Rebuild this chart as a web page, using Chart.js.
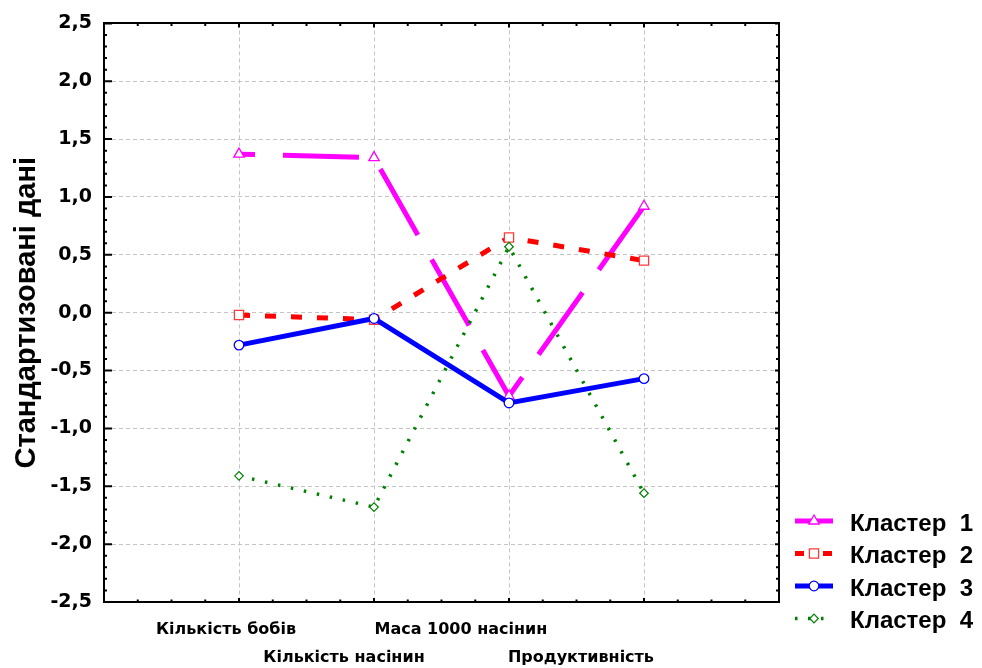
<!DOCTYPE html>
<html>
<head>
<meta charset="utf-8">
<script src="https://cdn.jsdelivr.net/npm/chart.js@4.4.1/dist/chart.umd.min.js"></script>
<style>
  html, body { margin: 0; padding: 0; background: #fff; }
  #wrap { width: 982px; height: 668px; }
</style>
</head>
<body>
<div id="wrap"><canvas id="clusterChart" width="982" height="668"></canvas></div>
<script>
// Categories along the x axis (placed at 1..4 on a 0..5 linear scale)
const categories = ['Кількість бобів', 'Кількість насінин', 'Маса 1000 насінин', 'Продуктивність'];
const seriesNames = ['Кластер  1', 'Кластер  2', 'Кластер  3', 'Кластер  4'];

// Standardised cluster means
const cluster1 = [1.37, 1.34, -0.72, 0.92];
const cluster2 = [-0.02, -0.06, 0.65, 0.45];
const cluster3 = [-0.28, -0.05, -0.78, -0.57];
const cluster4 = [-1.41, -1.68, 0.57, -1.56];

const yTicks = [-2.5, -2.0, -1.5, -1.0, -0.5, 0.0, 0.5, 1.0, 1.5, 2.0, 2.5];

const toPoints = arr => arr.map((v, i) => ({ x: i + 1, y: v }));

// small inward ticks on all four sides of the frame, like Statistica draws them
const frameTicks = {
    id: 'frameTicks',
    afterDraw(chart) {
        const { ctx, chartArea: a, scales } = chart;
        ctx.save();
        ctx.strokeStyle = '#000';
        ctx.lineWidth = 2;
        ctx.beginPath();
        for (let k = 0; k <= 20; k++) {
            const v = k * 0.25;
            const px = scales.x.getPixelForValue(v);
            const len = (k % 4 === 0) ? 4 : 2.5;
            ctx.moveTo(px, a.bottom); ctx.lineTo(px, a.bottom - len);
            ctx.moveTo(px, a.top); ctx.lineTo(px, a.top + len);
        }
        for (let k = 0; k <= 50; k++) {
            const v = -2.5 + k * 0.1;
            const py = scales.y.getPixelForValue(v);
            const major = k % 5 === 0;
            ctx.moveTo(a.left, py); ctx.lineTo(a.left + (major ? 8 : 3), py);
            ctx.moveTo(a.right, py); ctx.lineTo(a.right - (major ? 4 : 3), py);
        }
        ctx.stroke();
        ctx.restore();
    }
};

// legend at the lower right: line sample with the marker in the middle
const sampleLegend = {
    id: 'sampleLegend',
    afterDraw(chart) {
        const ctx = chart.ctx;
        chart.data.datasets.forEach((ds, i) => {
            const y = 521 + i * 32.5;
            ctx.save();
            ctx.strokeStyle = ds.borderColor;
            ctx.lineWidth = ds.borderWidth;
            ctx.setLineDash(ds.legendDash);
            ctx.beginPath();
            ctx.moveTo(795, y);
            ctx.lineTo(833, y);
            ctx.stroke();
            ctx.setLineDash([]);
            ctx.fillStyle = '#fff';
            ctx.strokeStyle = ds.pointBorderColor;
            ctx.lineWidth = ds.pointBorderWidth;
            Chart.helpers.drawPoint(ctx, {
                pointStyle: ds.pointStyle,
                radius: ds.pointRadius,
                borderWidth: ds.pointBorderWidth,
                rotation: 0
            }, 814, y);
            ctx.fillStyle = '#000';
            ctx.font = 'bold 24px "Liberation Sans", Arial, sans-serif';
            ctx.textBaseline = 'middle';
            ctx.textAlign = 'left';
            ctx.fillText(seriesNames[i], 850, y + 3);
            ctx.restore();
        });
    }
};

const noFrame = { display: false };

const chart = new Chart(document.getElementById('clusterChart').getContext('2d'), {
    type: 'line',
    data: {
        datasets: [
            {
                label: seriesNames[0],
                data: toPoints(cluster1),
                borderColor: '#ff00ff',
                borderWidth: 5,
                borderDash: [76, 28],
                borderDashOffset: 60,
                legendDash: [],
                pointStyle: 'triangle',
                pointRadius: 6,
                pointBorderWidth: 1.3,
                pointBorderColor: '#ff00ff',
                pointBackgroundColor: '#fff',
                order: 4
            },
            {
                label: seriesNames[1],
                data: toPoints(cluster2),
                borderColor: '#ff0000',
                borderWidth: 5,
                borderDash: [11, 15],
                legendDash: [9, 19],
                pointStyle: 'rect',
                pointRadius: 6.5,
                pointBorderWidth: 1.3,
                pointBorderColor: '#ff3a3a',
                pointBackgroundColor: '#fff',
                order: 3
            },
            {
                label: seriesNames[2],
                data: toPoints(cluster3),
                borderColor: '#0000ff',
                borderWidth: 5,
                legendDash: [],
                pointStyle: 'circle',
                pointRadius: 4.8,
                pointBorderWidth: 1.3,
                pointBorderColor: '#0000ff',
                pointBackgroundColor: '#fff',
                order: 2
            },
            {
                label: seriesNames[3],
                data: toPoints(cluster4),
                borderColor: '#008000',
                borderWidth: 3.5,
                borderDash: [2.5, 10.8],
                legendDash: [2.5, 10.5],
                pointStyle: 'rectRot',
                pointRadius: 4.3,
                pointBorderWidth: 1.2,
                pointBorderColor: '#008000',
                pointBackgroundColor: '#fff',
                order: 1
            }
        ]
    },
    options: {
        responsive: false,
        animation: false,
        devicePixelRatio: 1,
        layout: { padding: { top: 20, right: 203, left: 0, bottom: 0 } },
        elements: { line: { tension: 0, fill: false } },
        plugins: {
            legend: { display: false },
            tooltip: { enabled: false }
        },
        scales: {
            x: {
                type: 'linear',
                position: 'bottom',
                min: 0,
                max: 5,
                afterBuildTicks: axis => { axis.ticks = categories.map((c, i) => ({ value: i + 1 })); },
                afterFit: axis => { axis.height = 0; },
                ticks: { display: false },
                grid: { color: '#c4c4c4', lineWidth: 1, drawTicks: false },
                border: { display: true, color: '#000', width: 2, dash: [4, 3] }
            },
            // second bottom axis only for the staggered category labels
            xl: {
                type: 'linear',
                position: 'bottom',
                min: 0,
                max: 5,
                // labels sit a bit left of their category, alternating rows
                afterBuildTicks: axis => {
                    axis.ticks = [0.904, 1.778, 2.644, 3.533].map(v => ({ value: v }));
                },
                afterFit: axis => { axis.height = 66; },
                ticks: {
                    autoSkip: false,
                    maxRotation: 0,
                    padding: 14,
                    color: '#000',
                    font: { family: '"DejaVu Sans", sans-serif', weight: 'bold', size: 16, lineHeight: 1.75 },
                    callback: (v, i) => (i % 2 === 0 ? categories[i] : ['', categories[i]])
                },
                grid: { display: false, drawTicks: false },
                border: noFrame
            },
            xTop: {
                type: 'linear',
                position: 'top',
                min: 0,
                max: 5,
                afterFit: axis => { axis.height = 0; },
                ticks: { display: false },
                grid: { drawOnChartArea: false, drawTicks: false },
                border: { display: true, color: '#000', width: 2 }
            },
            y: {
                type: 'linear',
                min: -2.5,
                max: 2.5,
                afterBuildTicks: axis => { axis.ticks = yTicks.map(v => ({ value: v })); },
                afterFit: axis => { axis.width = 104; },
                ticks: {
                    padding: 12,
                    color: '#000',
                    font: { family: '"DejaVu Sans", sans-serif', weight: 'bold', size: 19 },
                    callback: v => v.toFixed(1).replace('.', ',')
                },
                grid: {
                    color: c => (Math.abs(c.tick.value) === 2.5 ? 'rgba(0,0,0,0)' : '#c4c4c4'),
                    lineWidth: 1,
                    drawTicks: false
                },
                border: { display: true, color: '#000', width: 2, dash: [4, 3] },
                title: {
                    display: true,
                    text: 'Стандартизовані дані',
                    color: '#000',
                    padding: { top: 10, bottom: 0 },
                    font: { family: '"Liberation Sans", Arial, sans-serif', weight: 'bold', size: 29 }
                }
            },
            yRight: {
                type: 'linear',
                position: 'right',
                min: -2.5,
                max: 2.5,
                afterFit: axis => { axis.width = 0; },
                ticks: { display: false },
                grid: { drawOnChartArea: false, drawTicks: false },
                border: { display: true, color: '#000', width: 2 }
            }
        }
    },
    plugins: [frameTicks, sampleLegend]
});
</script>
</body>
</html>
